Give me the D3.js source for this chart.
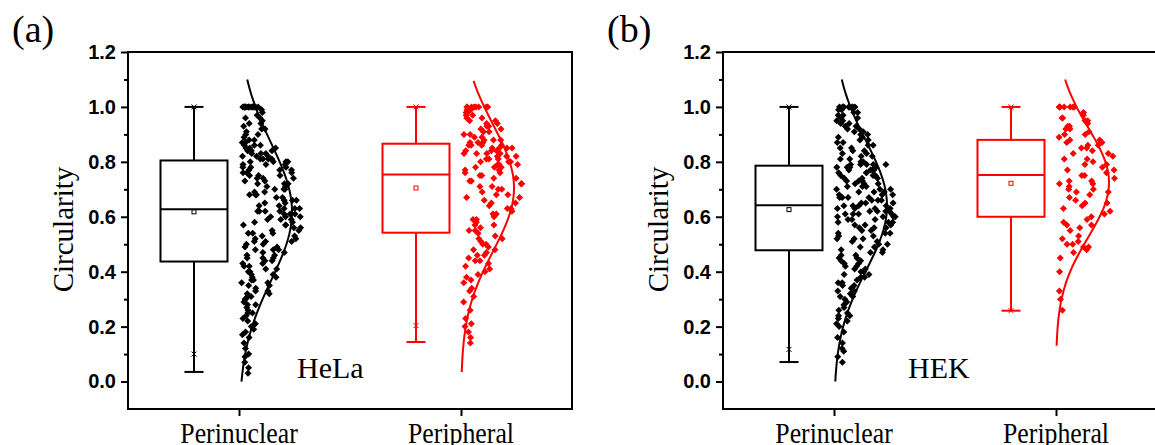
<!DOCTYPE html>
<html>
<head>
<meta charset="utf-8">
<script src="https://cdn.jsdelivr.net/npm/d3@7"></script>
<style>
  body { margin: 0; background: #fff; }
</style>
</head>
<body>
<svg id="chart" width="1155" height="445"></svg>
<script>
// categories and ticks
const categories = ["Perinuclear", "Peripheral"];
const yTicks = [0, 0.2, 0.4, 0.6, 0.8, 1.0, 1.2];
const yMinorTicks = [0.1, 0.3, 0.5, 0.7, 0.9, 1.1];
const colors = ["#000000", "#ff0000"];

// circularity values
const helaPerinuclear = [0.03,0.05,0.07,0.09,0.10,0.12,0.14,0.16,0.17,0.18,0.19,0.20,
  0.21,0.22,0.23,0.24,0.25,0.25,0.26,0.27,0.28,0.28,0.29,0.30,
  0.30,0.31,0.31,0.32,0.32,0.33,0.33,0.34,0.35,0.35,0.36,0.36,0.37,0.37,0.38,0.38,0.39,0.39,0.40,0.40,0.41,0.41,0.42,0.42,0.43,0.43,
  0.44,0.44,0.45,0.45,0.45,0.46,0.46,0.47,0.47,0.48,0.48,0.48,0.49,0.49,0.50,0.50,0.51,0.51,0.51,0.52,0.52,0.53,0.53,0.54,0.54,0.54,0.55,0.55,0.56,0.56,0.57,0.57,0.57,0.58,0.58,0.59,0.59,0.59,0.60,0.60,0.60,0.61,0.61,0.61,0.62,0.62,0.62,0.62,0.63,0.63,
  0.63,0.64,0.64,0.65,0.65,0.66,0.66,0.66,0.67,0.67,0.68,0.68,0.68,0.69,0.69,0.70,0.70,0.70,0.71,0.71,0.72,0.72,0.72,0.73,0.73,0.74,0.74,0.74,0.75,0.75,0.75,0.76,0.76,0.76,0.77,0.77,0.77,0.78,0.78,0.78,0.79,0.79,0.79,0.80,0.80,0.80,0.80,0.81,0.81,0.81,
  0.81,0.82,0.82,0.82,0.83,0.83,0.83,0.84,0.84,0.84,0.85,0.85,0.85,0.86,0.86,0.86,0.87,0.87,0.88,0.88,0.89,0.90,0.90,0.91,0.92,0.92,0.93,0.94,0.94,0.95,0.96,0.96,0.97,0.98,0.99,
  1,1,1,1,1,1,1,1,1,1,1,1,1,1,1];
const helaPeripheral = [0.14,0.16,0.18,0.20,0.21,0.23,0.26,0.29,
  0.31,0.33,0.34,0.36,0.37,0.38,0.39,0.40,0.41,0.42,0.43,0.44,0.44,0.45,0.46,0.46,0.47,0.48,0.48,0.49,0.50,0.50,0.51,0.52,0.52,0.53,0.54,
  0.55,0.55,0.56,0.57,0.57,0.58,0.59,0.59,0.60,0.61,0.61,0.62,0.63,0.63,0.64,0.65,0.65,0.66,0.67,0.67,0.68,0.68,0.69,0.70,0.70,0.71,0.71,0.72,0.72,0.73,0.73,0.74,0.74,0.75,0.75,
  0.76,0.76,0.77,0.77,0.78,0.78,0.78,0.79,0.79,0.79,0.80,0.80,0.80,0.81,0.81,0.81,0.82,0.82,0.82,0.83,0.83,0.83,0.83,0.84,0.84,0.84,0.85,0.85,0.85,0.85,0.86,0.86,0.86,0.86,0.87,
  0.87,0.87,0.88,0.88,0.88,0.89,0.89,0.90,0.90,0.91,0.91,0.92,0.92,0.93,0.93,0.94,0.94,0.95,0.95,0.96,0.96,0.97,0.97,0.98,0.98,0.99,0.99,1,1,1,1,1,1,1,1];
const hekPerinuclear = [0.07,0.09,0.11,0.12,0.14,0.16,0.18,0.20,
  0.21,0.22,0.23,0.24,0.24,0.25,0.26,0.27,0.28,0.29,
  0.30,0.31,0.31,0.32,0.33,0.33,0.34,0.35,0.35,0.36,0.36,0.37,0.38,0.38,0.39,0.39,0.40,0.40,0.41,0.41,0.42,0.42,0.43,0.43,0.44,0.44,0.45,0.45,0.46,0.46,0.47,0.47,
  0.48,0.48,0.49,0.49,0.50,0.50,0.51,0.51,0.52,0.52,0.52,0.53,0.53,0.54,0.54,0.54,0.55,0.55,0.56,0.56,0.56,0.57,0.57,0.57,0.58,0.58,0.58,0.59,0.59,0.59,0.60,0.60,0.60,0.60,0.61,0.61,0.61,0.61,0.62,0.62,0.62,0.62,0.63,0.63,0.63,0.63,0.64,0.64,0.64,0.64,
  0.65,0.65,0.65,0.66,0.66,0.66,0.67,0.67,0.67,0.67,0.68,0.68,0.68,0.69,0.69,0.69,0.70,0.70,0.70,0.71,0.71,0.71,0.72,0.72,0.72,0.73,0.73,0.73,0.74,0.74,0.74,0.75,0.75,0.75,0.76,0.76,0.76,0.77,0.77,0.77,0.77,0.78,0.78,0.78,0.78,0.79,0.79,0.79,0.79,0.79,
  0.80,0.80,0.81,0.81,0.82,0.82,0.83,0.83,0.84,0.84,0.85,0.85,0.86,0.86,0.87,0.87,0.88,0.88,0.89,0.89,0.90,0.90,0.91,0.91,0.92,0.92,0.93,0.93,0.94,0.94,0.95,0.95,0.96,0.96,0.97,0.97,0.98,0.98,0.99,0.99,
  1,1,1,1,1,1,1,1,1,1];
const hekPeripheral = [0.26,0.30,0.33,0.40,0.45,0.47,
  0.48,0.49,0.49,0.50,0.50,0.51,0.52,0.53,0.55,0.56,0.57,0.57,0.58,0.59,0.60,
  0.61,0.62,0.63,0.64,0.65,0.65,0.66,0.67,0.68,0.69,0.69,0.70,0.70,0.71,0.72,0.72,0.73,0.73,0.74,0.75,0.75,
  0.76,0.77,0.77,0.78,0.79,0.79,0.80,0.81,0.81,0.82,0.83,0.83,0.84,0.85,0.85,0.86,0.86,0.87,0.87,0.88,0.88,
  0.89,0.90,0.90,0.91,0.92,0.92,0.93,0.93,0.94,0.95,0.95,0.96,0.96,0.97,0.98,1,1,1,1,1,1,1];

// box statistics: [min, 1%, Q1, median, Q3, 99%, max, mean]
const helaBox = [[0.035, 0.10, 0.437, 0.627, 0.805, 1.0, 1.0, 0.618],
                 [0.144, 0.204, 0.542, 0.754, 0.866, 1.0, 1.0, 0.705]];
const hekBox  = [[0.071, 0.117, 0.478, 0.642, 0.786, 1.0, 1.0, 0.626],
                 [0.258, 0.258, 0.600, 0.752, 0.880, 1.0, 1.0, 0.722]];

// normal distribution curves: [mean, sd, from, to]
const helaCurve = [[0.618, 0.25, 0.0, 1.1], [0.705, 0.23, 0.035, 1.1]];
const hekCurve  = [[0.640, 0.235, 0.0, 1.1], [0.725, 0.20, 0.13, 1.1]];

const panels = [
  { tag: "(a)", cell: "HeLa", left: 128, points: [helaPerinuclear, helaPeripheral], box: helaBox, curve: helaCurve, cellX: 169 },
  { tag: "(b)", cell: "HEK",  left: 723, points: [hekPerinuclear, hekPeripheral],   box: hekBox,  curve: hekCurve,  cellX: 185 }
];

const svg = d3.select("#chart");
const plotTop = 52, plotBottom = 409, pw = 444;
const serif = "'Liberation Serif', 'Times New Roman', serif";
const sans = "'Liberation Sans', Arial, sans-serif";

const y = d3.scaleLinear().domain([-0.1, 1.2]).range([plotBottom, plotTop]);
const x = d3.scalePoint().domain(categories).range([0, pw]).padding(0.5);

const boxOff = -45, boxW = 67, capW = 19, amp = 53;
const diamond = r => `M0,${-r}L${r},0L0,${r}L${-r},0Z`;
// scatter placement only (horizontal spread inside the cloud)
const spread = (k, i) => {
  const s = Math.sin(k * 12.9898 + i * 78.233 + 1.7) * 43758.5453;
  return s - Math.floor(s);
};

panels.forEach((p, pi) => {
  const g = svg.append("g").attr("transform", `translate(${p.left},0)`);

  // panel tag
  svg.append("text")
    .attr("x", p.left - 116).attr("y", 42)
    .attr("font-family", serif).attr("font-size", 38)
    .text(p.tag);

  // y axis
  const yAxis = g.append("g")
    .call(d3.axisLeft(y).tickValues(yTicks).tickSize(7).tickFormat(d3.format(".1f")));
  yAxis.select(".domain").remove();
  yAxis.selectAll("line").attr("stroke-width", 2);
  yAxis.selectAll("text")
    .attr("x", -12)
    .attr("font-family", sans).attr("font-weight", "bold").attr("font-size", 20);

  const yMinor = g.append("g")
    .call(d3.axisLeft(y).tickValues(yMinorTicks).tickSize(4).tickFormat(""));
  yMinor.select(".domain").remove();
  yMinor.selectAll("line").attr("stroke-width", 2);

  // x axis ticks
  const xAxis = g.append("g").attr("transform", `translate(0,${plotBottom})`)
    .call(d3.axisBottom(x).tickSize(7).tickFormat(""));
  xAxis.select(".domain").remove();
  xAxis.selectAll("line").attr("stroke-width", 2);

  categories.forEach(c => {
    g.append("text")
      .attr("transform", `translate(${x(c)},443) scale(0.86,1)`)
      .attr("text-anchor", "middle")
      .attr("font-family", serif).attr("font-size", 30)
      .text(c);
  });

  // y label
  g.append("text")
    .attr("transform", `translate(-55,${(plotTop + plotBottom) / 2 - 1}) rotate(-90)`)
    .attr("text-anchor", "middle")
    .attr("font-family", serif).attr("font-size", 29)
    .text("Circularity");

  // frame
  g.append("rect")
    .attr("x", 0).attr("y", plotTop).attr("width", pw).attr("height", plotBottom - plotTop)
    .attr("fill", "none").attr("stroke", "#000").attr("stroke-width", 2);

  // cell label
  g.append("text")
    .attr("x", p.cellX).attr("y", 378)
    .attr("font-family", serif).attr("font-size", 30)
    .text(p.cell);

  categories.forEach((c, i) => {
    const col = colors[i];
    const cx = x(c);
    const bx = cx + boxOff;
    const [mn, p1, q1, med, q3, p99, mx, mean] = p.box[i];
    const [mu, sd, from, to] = p.curve[i];
    const bg = g.append("g").attr("stroke", col).attr("fill", "none");

    // whiskers
    bg.append("line").attr("x1", bx).attr("x2", bx).attr("y1", y(q3)).attr("y2", y(mx)).attr("stroke-width", 2);
    bg.append("line").attr("x1", bx).attr("x2", bx).attr("y1", y(q1)).attr("y2", y(mn)).attr("stroke-width", 2);
    [mn, mx].forEach(v => {
      bg.append("line").attr("x1", bx - capW / 2).attr("x2", bx + capW / 2)
        .attr("y1", y(v)).attr("y2", y(v)).attr("stroke-width", 2);
    });
    // box
    bg.append("rect").attr("x", bx - boxW / 2).attr("y", y(q3))
      .attr("width", boxW).attr("height", y(q1) - y(q3))
      .attr("fill", "#fff").attr("stroke-width", 2);
    bg.append("line").attr("x1", bx - boxW / 2).attr("x2", bx + boxW / 2)
      .attr("y1", y(med)).attr("y2", y(med)).attr("stroke-width", 2);
    // mean
    bg.append("rect").attr("x", bx - 2).attr("y", y(mean) - 2)
      .attr("width", 4).attr("height", 4).attr("stroke-width", 1);
    // 1% / 99% markers
    [p1, p99].forEach(v => {
      bg.append("path")
        .attr("d", `M${bx - 2.5},${y(v) - 2.5}L${bx + 2.5},${y(v) + 2.5}M${bx - 2.5},${y(v) + 2.5}L${bx + 2.5},${y(v) - 2.5}`)
        .attr("stroke-width", 1);
    });

    // distribution curve
    const dens = v => Math.exp(-((v - mu) ** 2) / (2 * sd * sd));
    const vals = d3.range(from, to + 0.0001, 0.01);
    g.append("path")
      .datum(vals)
      .attr("fill", "none").attr("stroke", col).attr("stroke-width", 2)
      .attr("d", d3.line().x(v => cx + amp * dens(v)).y(v => y(v)));

    // jittered points
    g.append("g").selectAll("path")
      .data(p.points[i])
      .join("path")
      .attr("d", diamond(3.5))
      .attr("fill", col)
      .attr("transform", (v, k) => {
        const u = spread(k, i + 2 * pi);
        const w = Math.max(8, amp * dens(v) * 1.15);
        return `translate(${cx + 2.5 + u * w},${y(v)})`;
      });
  });
});
</script>
</body>
</html>
